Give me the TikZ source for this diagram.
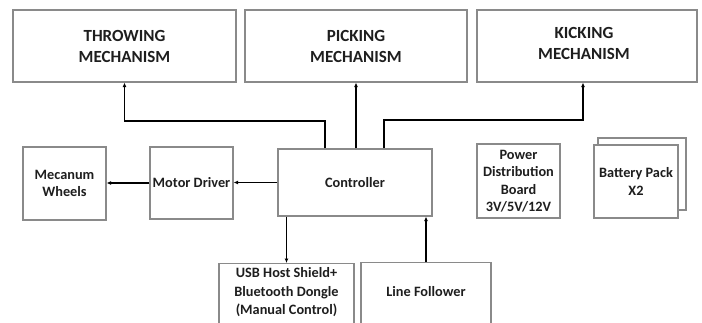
\documentclass[tikz,border=0pt]{standalone}
\usepackage{fontspec}
\setmainfont{Carlito}
\usetikzlibrary{arrows.meta,calc}
\definecolor{boxgray}{HTML}{8A8A8A}
\definecolor{txtc}{HTML}{1E1E1E}
\tikzset{
  box/.style={draw=boxgray, line width=1.1pt, fill=white, rectangle, inner sep=0pt, align=center, text=txtc,
    font=\fontsize{14.3}{17.5}\selectfont\bfseries},
  bigbox/.style={box, font=\fontsize{17}{21}\selectfont\bfseries},
  txt/.style={inner sep=0pt, align=center, text=txtc, font=\fontsize{14.3}{18.5}\selectfont\bfseries},
  conn/.style={draw=black, line width=1.5pt, -{Latex[length=4.5pt,width=4pt]}},
}
\begin{document}
\begin{tikzpicture}[x=1pt,y=-1pt]
\useasboundingbox (0,0) rectangle (702,322);
\clip (0,0) rectangle (702,322);
\fill[white] (0,0) rectangle (702,322);
% top boxes
\node[bigbox, minimum width=223, minimum height=72] (thr) at (124.5,46) {THROWING\\MECHANISM};
\node[bigbox, minimum width=222, minimum height=72] (pick) at (356,46) {PICKING\\MECHANISM};
\node[bigbox, minimum width=220, minimum height=72] (kick) at (587,46) {};
\node[txt, font=\fontsize{17}{21}\selectfont\bfseries] (kickt) at (584,43) {KICKING\\MECHANISM};
% middle row
\node[box, minimum width=83, minimum height=73] (mec) at (64.5,183.5) {Mecanum\\Wheels};
\node[box, minimum width=83, minimum height=72] (mot) at (191.5,183) {Motor Driver};
\node[box, minimum width=154, minimum height=67] (ctl) at (355,182.5) {Controller};
\node[box, minimum width=83, minimum height=74] (pwr) at (518.5,181) {Power\\Distribution\\Board\\3V/5V/12V};
\node[box, minimum width=88, minimum height=72] (batb) at (642,174) {};
\node[box, minimum width=84, minimum height=73] (bat) at (636,181.5) {Battery Pack\\X2};
% bottom row
\node[box, minimum width=135, minimum height=80, anchor=north] (usb) at (286.5,263) {};
\node[txt] (usbt) at (286.5,292.5) {USB Host Shield+\\Bluetooth Dongle\\(Manual Control)};
\node[box, minimum width=130, minimum height=80, anchor=north] (lf) at (426,262) {};
\node[txt] (lft) at (426,292) {Line Follower};
% connectors
\draw[conn] ([xshift=-30pt]ctl.north) -- ++(0,-27.5) -| (thr.south);
\draw[conn] (pick.south |- ctl.north) -- (pick.south);
\draw[conn] ([xshift=29pt]ctl.north) -- ++(0,-28.5) -| ([xshift=-4pt]kick.south);
\draw[conn] (ctl.west) -- (ctl.west -| mot.east);
\draw[conn] (mot.west) -- (mot.west -| mec.east);
\draw[conn] (usb.north |- ctl.south) -- (usb.north);
\draw[conn] (lf.north) -- (lf.north |- ctl.south);
\end{tikzpicture}
\end{document}
